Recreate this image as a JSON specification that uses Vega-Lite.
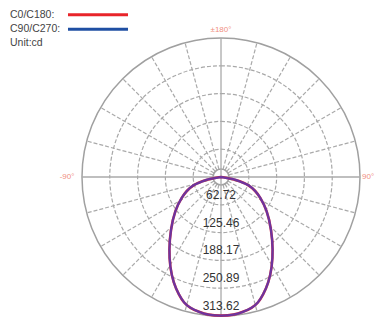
{
  "$schema": "https://vega.github.io/schema/vega-lite/v6.json",
  "autosize": {"type": "none"},
  "width": 378,
  "height": 320,
  "padding": 0,
  "background": "white",
  "config": {"view": {"stroke": null}},
  "datasets": {
    "rings": [
      {"cx": 0, "cy": 0, "r": 62.72},
      {"cx": 0, "cy": 0, "r": 125.45},
      {"cx": 0, "cy": 0, "r": 188.17},
      {"cx": 0, "cy": 0, "r": 250.89}
    ],
    "solidRings": [
      {"cx": 0, "cy": 0, "r": 18},
      {"cx": 0, "cy": 0, "r": 313.62}
    ],
    "radials": [
      {"x": 4.66, "y": 17.39, "x2": 81.17, "y2": 302.94},
      {"x": 9.0, "y": 15.59, "x2": 156.81, "y2": 271.6},
      {"x": 12.73, "y": 12.73, "x2": 221.76, "y2": 221.76},
      {"x": 15.59, "y": 9.0, "x2": 271.6, "y2": 156.81},
      {"x": 17.39, "y": 4.66, "x2": 302.94, "y2": 81.17},
      {"x": -4.66, "y": 17.39, "x2": -81.17, "y2": 302.94},
      {"x": -9.0, "y": 15.59, "x2": -156.81, "y2": 271.6},
      {"x": -12.73, "y": 12.73, "x2": -221.76, "y2": 221.76},
      {"x": -15.59, "y": 9.0, "x2": -271.6, "y2": 156.81},
      {"x": -17.39, "y": 4.66, "x2": -302.94, "y2": 81.17},
      {"x": 4.66, "y": -17.39, "x2": 81.17, "y2": -302.94},
      {"x": 9.0, "y": -15.59, "x2": 156.81, "y2": -271.6},
      {"x": 12.73, "y": -12.73, "x2": 221.76, "y2": -221.76},
      {"x": 15.59, "y": -9.0, "x2": 271.6, "y2": -156.81},
      {"x": 17.39, "y": -4.66, "x2": 302.94, "y2": -81.17},
      {"x": -4.66, "y": -17.39, "x2": -81.17, "y2": -302.94},
      {"x": -9.0, "y": -15.59, "x2": -156.81, "y2": -271.6},
      {"x": -12.73, "y": -12.73, "x2": -221.76, "y2": -221.76},
      {"x": -15.59, "y": -9.0, "x2": -271.6, "y2": -156.81},
      {"x": -17.39, "y": -4.66, "x2": -302.94, "y2": -81.17}
    ],
    "axes": [
      {"x": -313.62, "y": 0, "x2": 313.62, "y2": 0},
      {"x": 0, "y": -313.62, "x2": 0, "y2": 313.62}
    ],
    "curve": [
      {"o": 0, "x": 0, "y": 0},
      {"o": 1, "x": 27.1, "y": -4.5},
      {"o": 2, "x": 40.6, "y": -9.0},
      {"o": 3, "x": 63.2, "y": -18.1},
      {"o": 4, "x": 77.8, "y": -31.6},
      {"o": 5, "x": 88.0, "y": -45.1},
      {"o": 6, "x": 103.8, "y": -74.5},
      {"o": 7, "x": 113.9, "y": -119.6},
      {"o": 8, "x": 117.3, "y": -164.7},
      {"o": 9, "x": 115.1, "y": -203.1},
      {"o": 10, "x": 107.2, "y": -239.2},
      {"o": 11, "x": 94.8, "y": -266.2},
      {"o": 12, "x": 83.5, "y": -284.3},
      {"o": 13, "x": 69.9, "y": -295.6},
      {"o": 14, "x": 49.6, "y": -304.6},
      {"o": 15, "x": 29.3, "y": -311.4},
      {"o": 16, "x": 0, "y": -313.6},
      {"o": 17, "x": -29.3, "y": -311.4},
      {"o": 18, "x": -49.6, "y": -304.6},
      {"o": 19, "x": -69.9, "y": -295.6},
      {"o": 20, "x": -83.5, "y": -284.3},
      {"o": 21, "x": -94.8, "y": -266.2},
      {"o": 22, "x": -107.2, "y": -239.2},
      {"o": 23, "x": -115.1, "y": -203.1},
      {"o": 24, "x": -117.3, "y": -164.7},
      {"o": 25, "x": -113.9, "y": -119.6},
      {"o": 26, "x": -103.8, "y": -74.5},
      {"o": 27, "x": -88.0, "y": -45.1},
      {"o": 28, "x": -77.8, "y": -31.6},
      {"o": 29, "x": -63.2, "y": -18.1},
      {"o": 30, "x": -40.6, "y": -9.0},
      {"o": 31, "x": -27.1, "y": -4.5},
      {"o": 32, "x": 0, "y": 0}
    ],
    "ringLabels": [
      {"x": 0, "y": -62.72, "t": "62.72"},
      {"x": 0, "y": -125.45, "t": "125.46"},
      {"x": 0, "y": -188.17, "t": "188.17"},
      {"x": 0, "y": -250.89, "t": "250.89"},
      {"x": 0, "y": -313.62, "t": "313.62"}
    ],
    "angleLabels": [
      {"x": 0, "y": 331.7, "t": "±180°", "a": "center"},
      {"x": -347.4, "y": 0, "t": "-90°", "a": "center"},
      {"x": 331.7, "y": 0, "t": "90°", "a": "left"}
    ],
    "legendText": [
      {"x": -476.0, "y": 365.6, "t": "C0/C180:"},
      {"x": -476.0, "y": 334.0, "t": "C90/C270:"},
      {"x": -476.0, "y": 302.4, "t": "Unit:cd"}
    ],
    "legendLines": [
      {"x": -345.2, "x2": -209.8, "y": 366.2, "s": "C0/C180"},
      {"x": -345.2, "x2": -209.8, "y": 333.3, "s": "C90/C270"}
    ]
  },
  "layer": [
    {
      "data": {"name": "rings"},
      "mark": {"type": "arc", "filled": false, "theta": 0, "theta2": 6.2832, "stroke": "#a8a8a8", "strokeWidth": 1.2, "strokeDash": [4, 2]},
      "encoding": {
        "x": {"field": "cx", "type": "quantitative", "scale": {"domain": [-498.6, 354.2], "nice": false, "zero": false}, "axis": null},
        "y": {"field": "cy", "type": "quantitative", "scale": {"domain": [-322.7, 399.4], "nice": false, "zero": false}, "axis": null},
        "radius": {"field": "r", "type": "quantitative", "stack": null, "scale": {"type": "linear", "domain": [0, 313.62], "range": [0, 139.01], "zero": true, "nice": false}}
      }
    },
    {
      "data": {"name": "solidRings"},
      "mark": {"type": "arc", "filled": false, "theta": 0, "theta2": 6.2832, "stroke": "#a0a0a0", "strokeWidth": 1.5},
      "encoding": {
        "x": {"field": "cx", "type": "quantitative", "scale": {"domain": [-498.6, 354.2], "nice": false, "zero": false}, "axis": null},
        "y": {"field": "cy", "type": "quantitative", "scale": {"domain": [-322.7, 399.4], "nice": false, "zero": false}, "axis": null},
        "radius": {"field": "r", "type": "quantitative", "stack": null, "scale": {"type": "linear", "domain": [0, 313.62], "range": [0, 139.01], "zero": true, "nice": false}}
      }
    },
    {
      "data": {"name": "radials"},
      "mark": {"type": "rule", "stroke": "#aaaaaa", "strokeWidth": 1.2, "strokeDash": [4, 2]},
      "encoding": {
        "x": {"field": "x", "type": "quantitative", "scale": {"domain": [-498.6, 354.2], "nice": false, "zero": false}, "axis": null},
        "y": {"field": "y", "type": "quantitative", "scale": {"domain": [-322.7, 399.4], "nice": false, "zero": false}, "axis": null},
        "x2": {"field": "x2"},
        "y2": {"field": "y2"}
      }
    },
    {
      "data": {"name": "axes"},
      "mark": {"type": "rule", "stroke": "#aaaaaa", "strokeWidth": 1.3},
      "encoding": {
        "x": {"field": "x", "type": "quantitative", "scale": {"domain": [-498.6, 354.2], "nice": false, "zero": false}, "axis": null},
        "y": {"field": "y", "type": "quantitative", "scale": {"domain": [-322.7, 399.4], "nice": false, "zero": false}, "axis": null},
        "x2": {"field": "x2"},
        "y2": {"field": "y2"}
      }
    },
    {
      "data": {"name": "ringLabels"},
      "mark": {"type": "text", "font": "Liberation Sans", "fontSize": 12, "fill": "#333333", "baseline": "middle", "dy": -10},
      "encoding": {
        "x": {"field": "x", "type": "quantitative", "scale": {"domain": [-498.6, 354.2], "nice": false, "zero": false}, "axis": null},
        "y": {"field": "y", "type": "quantitative", "scale": {"domain": [-322.7, 399.4], "nice": false, "zero": false}, "axis": null},
        "text": {"field": "t"}
      }
    },
    {
      "data": {"name": "curve"},
      "mark": {"type": "line", "stroke": "#e3262b", "strokeWidth": 2.6, "interpolate": "basis"},
      "encoding": {
        "x": {"field": "x", "type": "quantitative", "scale": {"domain": [-498.6, 354.2], "nice": false, "zero": false}, "axis": null},
        "y": {"field": "y", "type": "quantitative", "scale": {"domain": [-322.7, 399.4], "nice": false, "zero": false}, "axis": null},
        "order": {"field": "o"}
      }
    },
    {
      "data": {"name": "curve"},
      "mark": {"type": "line", "stroke": "#3a3ad0", "strokeWidth": 2.3, "opacity": 0.7, "interpolate": "basis"},
      "encoding": {
        "x": {"field": "x", "type": "quantitative", "scale": {"domain": [-498.6, 354.2], "nice": false, "zero": false}, "axis": null},
        "y": {"field": "y", "type": "quantitative", "scale": {"domain": [-322.7, 399.4], "nice": false, "zero": false}, "axis": null},
        "order": {"field": "o"}
      }
    },
    {
      "data": {"name": "angleLabels"},
      "mark": {"type": "text", "font": "Liberation Sans", "fontSize": 8, "fill": "#f0907f", "baseline": "middle"},
      "encoding": {
        "x": {"field": "x", "type": "quantitative", "scale": {"domain": [-498.6, 354.2], "nice": false, "zero": false}, "axis": null},
        "y": {"field": "y", "type": "quantitative", "scale": {"domain": [-322.7, 399.4], "nice": false, "zero": false}, "axis": null},
        "text": {"field": "t"},
        "align": {"field": "a", "type": "nominal", "scale": null}
      }
    },
    {
      "data": {"name": "legendText"},
      "mark": {"type": "text", "font": "Liberation Sans", "fontSize": 10.5, "fill": "#444444", "align": "left", "baseline": "middle"},
      "encoding": {
        "x": {"field": "x", "type": "quantitative", "scale": {"domain": [-498.6, 354.2], "nice": false, "zero": false}, "axis": null},
        "y": {"field": "y", "type": "quantitative", "scale": {"domain": [-322.7, 399.4], "nice": false, "zero": false}, "axis": null},
        "text": {"field": "t"}
      }
    },
    {
      "data": {"name": "legendLines"},
      "mark": {"type": "rule", "strokeWidth": 3},
      "encoding": {
        "x": {"field": "x", "type": "quantitative", "scale": {"domain": [-498.6, 354.2], "nice": false, "zero": false}, "axis": null},
        "x2": {"field": "x2"},
        "y": {"field": "y", "type": "quantitative", "scale": {"domain": [-322.7, 399.4], "nice": false, "zero": false}, "axis": null},
        "color": {"field": "s", "type": "nominal", "scale": {"domain": ["C0/C180", "C90/C270"], "range": ["#e8242a", "#1f4fa3"]}, "legend": null}
      }
    }
  ]
}
